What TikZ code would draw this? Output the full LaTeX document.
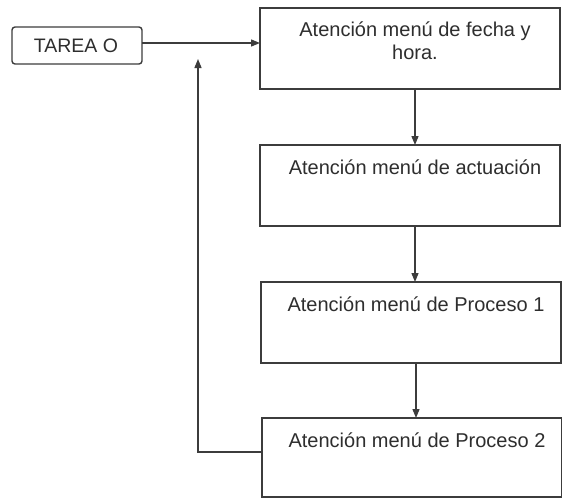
\documentclass[tikz,border=0pt]{standalone}
\usepackage{fontspec}
\setmainfont{Liberation Sans}
\usetikzlibrary{arrows.meta}
\definecolor{ink}{HTML}{3C3C3C}
\definecolor{txt}{HTML}{2E2E2E}
\begin{document}
\begin{tikzpicture}[x=1pt,y=-1pt,
  every node/.style={inner sep=0pt, outer sep=0pt},
  box/.style={draw=ink, line width=1.4pt, fill=white, minimum width=300pt, minimum height=81pt, anchor=north west},
  startbox/.style={draw=ink, line width=1.4pt, rounded corners=3pt, minimum width=130pt, minimum height=37pt, anchor=north west},
  lbl/.style={text=txt, font=\fontsize{20}{22.5}\selectfont, align=center, anchor=north},
  conn/.style={draw=ink, line width=1.3pt, -{Triangle[length=9pt,width=7pt]}}
]
\useasboundingbox (0,0) rectangle (562,499);
\fill[white] (0,0) rectangle (562,499);

\node[startbox] (t) at (12,27) {};
\node[text=txt, font=\fontsize{19.5}{21}\selectfont] (tl) at ([xshift=-1pt]t.center) {TAREA O};

\node[box] (b1) at (260,8) {};
\node[box, minimum height=81pt] (b2) at (260,145) {};
\node[box, minimum height=81pt] (b3) at (261,282) {};
\node[box, minimum height=79pt] (b4) at (262,418) {};

\node[lbl] (l1) at ([xshift=5pt,yshift=-14pt]b1.north) {Atención menú de fecha y\\hora.};
\node[lbl] (l2) at ([xshift=5pt,yshift=-14.5pt]b2.north) {Atención menú de actuación};
\node[lbl] (l3) at ([xshift=5pt,yshift=-14.5pt]b3.north) {Atención menú de Proceso 1};
\node[lbl] (l4) at ([xshift=5pt,yshift=-14.5pt]b4.north) {Atención menú de Proceso 2};

\coordinate (fb) at (198,59);

\draw[conn] ([yshift=2.5pt]t.east) -- ([yshift=2.5pt]t.east -| b1.west);
\draw[conn] ([xshift=5pt]b1.south) -- ([xshift=5pt]b1.south |- b2.north);
\draw[conn] ([xshift=5pt]b2.south) -- ([xshift=5pt]b2.south |- b3.north);
\draw[conn] ([xshift=5pt]b3.south) -- ([xshift=5pt]b3.south |- b4.north);
\draw[conn] ([yshift=5.5pt]b4.west) -| (fb);
\end{tikzpicture}
\end{document}
